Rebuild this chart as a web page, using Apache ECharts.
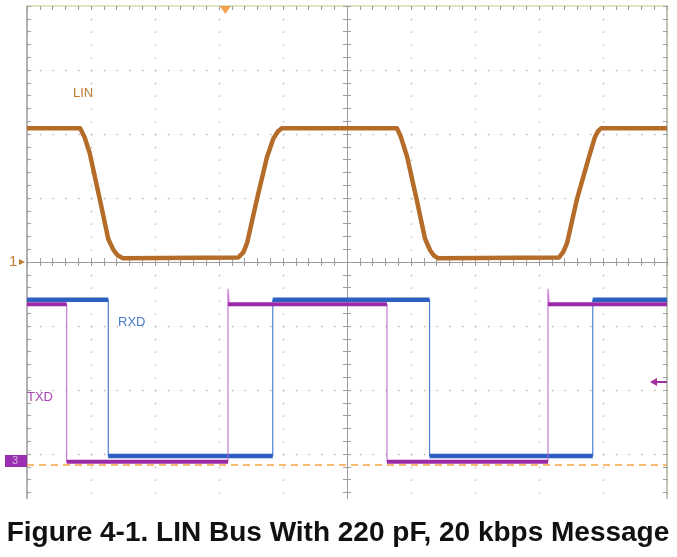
<!DOCTYPE html>
<html>
<head>
<meta charset="utf-8">
<script src="https://cdn.jsdelivr.net/npm/echarts@6/dist/echarts.min.js"></script>
<style>
html,body{margin:0;padding:0;background:#fff;}
#chart{width:677px;height:557px;}
</style>
</head>
<body>
<div id="chart"></div>
<script>
// ---- data (in scope divisions; x: time divisions from centre, y: divisions from centre) ----
const linT = [-5, -4.17, -4.1, -4.02, -3.86, -3.73, -3.65, -3.58, -3.5, -1.70, -1.62, -1.56, -1.41, -1.25, -1.15, -1.08, -1.02, 0.78, 0.84, 0.94, 1.09, 1.22, 1.30, 1.36, 1.42, 3.31, 3.38, 3.44, 3.59, 3.78, 3.87, 3.92, 3.97, 5];
const linV = [2.09, 2.09, 1.95, 1.70, 0.97, 0.36, 0.19, 0.10, 0.06, 0.07, 0.15, 0.30, 0.97, 1.64, 1.93, 2.04, 2.09, 2.09, 1.96, 1.64, 0.97, 0.36, 0.18, 0.10, 0.06, 0.07, 0.16, 0.30, 0.97, 1.64, 1.94, 2.04, 2.09, 2.09];
const txdEdges = [-4.38, -1.86, 0.625, 3.14];   // fall, rise, fall, rise
const txdLevels = [-0.66, -3.12];              // high, low
const txdOvershoot = -0.42;
const rxdEdges = [-3.73, -1.16, 1.29, 3.84];
const rxdLevels = [-0.59, -3.03];
const gndLevel = -3.17;
const trigTime = -1.9;
const labels = ['LIN', 'RXD', 'TXD'];
const caption = 'Figure 4-1. LIN Bus With 220 pF, 20 kbps Message';

const X0 = -5, X1 = 5, Y0 = -4, Y1 = 4;

function stepLine(edges, lv, over) {
  let cur = 0; // 0 = high
  const out = [[X0, lv[0]]];
  edges.forEach(e => {
    out.push([e, lv[cur]]);
    cur = 1 - cur;
    if (cur === 0 && over !== undefined) { out.push([e, over]); out.push([e + 0.02, lv[0]]); }
    else out.push([e, lv[cur]]);
  });
  out.push([X1, lv[cur]]);
  return out;
}
function levelSegs(edges, lv) {
  let cur = 0;
  const pts = [X0].concat(edges).concat([X1]);
  const out = [];
  for (let i = 0; i < pts.length - 1; i++) {
    out.push([pts[i], lv[cur]]);
    out.push([pts[i + 1], lv[cur]]);
    out.push([pts[i + 1], '-']);
    cur = 1 - cur;
  }
  return out;
}
const linData = linT.map((t, i) => [t, linV[i]]);

const gridDots = {show: true, lineStyle: {color: '#b4b4b4', width: 1.3, type: [1.4, 11.4]}};
function xAx(extra) {
  return Object.assign({type: 'value', min: X0, max: X1, interval: 1, axisLabel: {show: false},
    splitLine: {show: false}}, extra);
}
function yAx(extra) {
  return Object.assign({type: 'value', min: Y0, max: Y1, interval: 1, axisLabel: {show: false},
    splitLine: {show: false}}, extra);
}
const tickStyle = {color: '#a0a0a0', width: 1};

const chart = echarts.init(document.getElementById('chart'), null, {renderer: 'canvas'});
chart.setOption({
  animation: false,
  backgroundColor: '#ffffff',
  grid: {left: 27, right: 10, top: 6, height: 512, show: false},
  xAxis: [
    xAx({position: 'bottom', axisLine: {onZero: true, lineStyle: {color: '#9c9c9c'}},
      axisTick: {show: true, inside: true, length: 4, lineStyle: tickStyle},
      minorTick: {show: true, splitNumber: 5, length: 4, lineStyle: tickStyle}, splitLine: gridDots}),
    xAx({position: 'bottom', axisLine: {onZero: true, lineStyle: {color: '#9c9c9c'}},
      axisTick: {show: true, inside: false, length: 4, lineStyle: tickStyle},
      minorTick: {show: true, splitNumber: 5, length: 4, lineStyle: tickStyle}}),
    xAx({position: 'top', axisLine: {onZero: false, lineStyle: {color: '#d2ddb0', width: 1.5}},
      axisTick: {show: true, inside: true, length: 4, lineStyle: tickStyle},
      minorTick: {show: true, splitNumber: 5, length: 4, lineStyle: tickStyle}})
  ],
  yAxis: [
    yAx({position: 'left', axisLine: {onZero: true, lineStyle: {color: '#9c9c9c'}},
      axisTick: {show: true, inside: true, length: 4, lineStyle: tickStyle},
      minorTick: {show: true, splitNumber: 5, length: 4, lineStyle: tickStyle}, splitLine: gridDots}),
    yAx({position: 'left', axisLine: {onZero: true, lineStyle: {color: '#9c9c9c'}},
      axisTick: {show: true, inside: false, length: 4, lineStyle: tickStyle},
      minorTick: {show: true, splitNumber: 5, length: 4, lineStyle: tickStyle}}),
    yAx({position: 'left', axisLine: {onZero: false, lineStyle: {color: '#9a9a9a', width: 1.5}},
      axisTick: {show: true, inside: true, length: 4, lineStyle: tickStyle},
      minorTick: {show: true, splitNumber: 5, length: 4, lineStyle: tickStyle}}),
    yAx({position: 'right', axisLine: {onZero: false, lineStyle: {color: '#a9b49a', width: 1.5}},
      axisTick: {show: true, inside: true, length: 4, lineStyle: tickStyle},
      minorTick: {show: true, splitNumber: 5, length: 4, lineStyle: tickStyle}})
  ],
  series: [
    {type: 'line', name: 'GND', data: [[X0, gndLevel], [X1, gndLevel]], symbol: 'none',
      lineStyle: {color: '#f3a443', width: 1.5, type: [7, 5]}, z: 3},
    {type: 'line', name: 'RXD', data: stepLine(rxdEdges, rxdLevels), symbol: 'none',
      lineStyle: {color: '#4d7fd0', width: 1.2}, z: 4},
    {type: 'line', name: 'RXD levels', data: levelSegs(rxdEdges, rxdLevels), symbol: 'none', connectNulls: false,
      lineStyle: {color: '#2d5fc2', width: 4.5}, z: 5},
    {type: 'line', name: 'TXD', data: stepLine(txdEdges, txdLevels, txdOvershoot), symbol: 'none',
      lineStyle: {color: '#c060d0', width: 1.2, opacity: 0.85}, z: 6},
    {type: 'line', name: 'TXD levels', data: levelSegs(txdEdges, txdLevels), symbol: 'none', connectNulls: false,
      lineStyle: {color: '#9c2aa8', width: 4}, z: 7},
    {type: 'line', name: 'LIN', data: linData, symbol: 'none',
      lineStyle: {color: '#b46c28', width: 4.5, join: 'round'}, z: 8},
    {type: 'scatter', name: 'trigger', data: [[trigTime, Y1]], symbol: 'triangle', symbolRotate: 180,
      symbolSize: [11, 8], symbolOffset: [0, 4], itemStyle: {color: '#f08a26'}, z: 9, clip: false}
  ],
  graphic: [
    {type: 'rect', shape: {x: 0, y: 499, width: 677, height: 58}, style: {fill: '#fff'}, z: 100},
    {type: 'text', z: 101, x: 338, y: 533, style: {text: caption, fill: '#111', textAlign: 'center', textVerticalAlign: 'middle',
      font: 'bold 28px Liberation Sans, Arial, sans-serif'}},
    {type: 'text', left: 73, top: 87, z: 50, style: {text: labels[0], fill: '#c0782e', font: '13px Liberation Sans, Arial'}},
    {type: 'text', left: 118, top: 316, z: 50, style: {text: labels[1], fill: '#4a7bc8', font: '13px Liberation Sans, Arial'}},
    {type: 'text', left: 27, top: 391, z: 50, style: {text: labels[2], fill: '#a845b0', font: '13px Liberation Sans, Arial'}},
    {type: 'text', left: 9, top: 254, z: 50, style: {text: '1', fill: '#c07a30', font: '15px Liberation Sans, Arial'}},
    {type: 'polygon', z: 50, shape: {points: [[19, 259], [25, 262], [19, 265]]}, style: {fill: '#c07a30'}},
    {type: 'rect', z: 50, shape: {x: 5, y: 455, width: 22, height: 12}, style: {fill: '#9a2fb0'}},
    {type: 'text', left: 12, top: 455, z: 51, style: {text: '3', fill: '#d9b3e6', font: '11px Liberation Sans, Arial'}},
    {type: 'polygon', z: 50, shape: {points: [[650, 382], [657, 378], [657, 386]]}, style: {fill: '#a0309e'}},
    {type: 'line', z: 50, shape: {x1: 655, y1: 382, x2: 667, y2: 382}, style: {stroke: '#a0309e', lineWidth: 2}}
  ]
});
</script>
</body>
</html>
